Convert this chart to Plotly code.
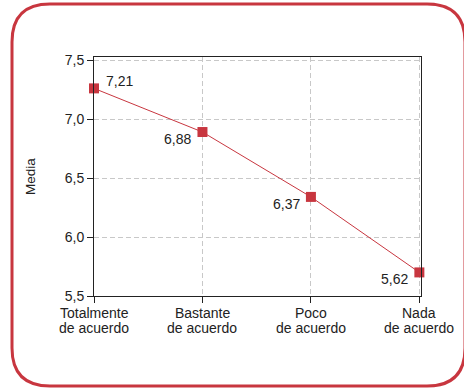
import plotly.graph_objects as go

# data
categories = ["Totalmente<br>de acuerdo", "Bastante<br>de acuerdo", "Poco<br>de acuerdo", "Nada<br>de acuerdo"]
media = [7.26, 6.89, 6.34, 5.70]
value_labels = ["7,21", "6,88", "6,37", "5,62"]
y_ticks = [5.5, 6.0, 6.5, 7.0, 7.5]

W, H = 464, 389
L, R, T, B = 94, 43, 57, 93
RED = "#c8363f"
INK = "#222222"
GRID = "#c8c8c8"

pw, ph = W - L - R, H - T - B


def px(x):
    return (x - L) / pw


def py(y):
    return (H - B - y) / ph


def frame_path(x0, y0, x1, y1, r):
    # rounded rectangle given in pixels, returned in paper coords
    pts = [
        ("M", [(x0 + r, y0)]),
        ("L", [(x1 - r, y0)]),
        ("Q", [(x1, y0), (x1, y0 + r)]),
        ("L", [(x1, y1 - r)]),
        ("Q", [(x1, y1), (x1 - r, y1)]),
        ("L", [(x0 + r, y1)]),
        ("Q", [(x0, y1), (x0, y1 - r)]),
        ("L", [(x0, y0 + r)]),
        ("Q", [(x0, y0), (x0 + r, y0)]),
    ]
    s = ""
    for cmd, coords in pts:
        s += cmd + " " + " ".join(f"{px(a):.5f},{py(b):.5f}" for a, b in coords) + " "
    return s + "Z"


xs = list(range(len(categories)))

fig = go.Figure()
fig.add_trace(go.Scatter(
    x=xs, y=media,
    mode="lines+markers",
    line=dict(color=RED, width=1),
    marker=dict(symbol="square", size=10, color=RED),
    cliponaxis=False, showlegend=False, hoverinfo="skip",
))

# value labels: first one up-right of the point, the rest down-left
for i, (xv, yv, lab) in enumerate(zip(xs, media, value_labels)):
    if i == 0:
        fig.add_annotation(x=xv, y=yv, text=lab, showarrow=False,
                           xanchor="left", yanchor="middle", xshift=10, yshift=7)
    else:
        fig.add_annotation(x=xv, y=yv, text=lab, showarrow=False,
                           xanchor="right", yanchor="middle", xshift=-9, yshift=-7)

# category labels, one annotation per line to keep the tight line spacing
for xv, cat in zip(xs, categories):
    for k, line in enumerate(cat.split("<br>")):
        fig.add_annotation(x=xv, y=py(313 + 15 * k), yref="paper", text=line,
                           showarrow=False, xanchor="center", yanchor="middle")

fig.add_shape(type="path", xref="paper", yref="paper",
              path=frame_path(12, 4, 465, 386, 38),
              line=dict(color=RED, width=3), layer="below")

fig.update_layout(
    width=W, height=H,
    margin=dict(l=L, r=R, t=T, b=B),
    paper_bgcolor="white", plot_bgcolor="white",
    separators=",.",
    font=dict(family="Liberation Sans, Arial, sans-serif", size=14, color=INK),
    xaxis=dict(
        range=[0, 3.015], tickvals=xs, showticklabels=False,
        showgrid=True, gridcolor=GRID, griddash="5px,3px", gridwidth=1,
        showline=True, linecolor=INK, linewidth=1, mirror=True,
        ticks="outside", ticklen=6, tickcolor=INK, zeroline=False,
    ),
    yaxis=dict(
        range=[5.5, 7.526], tickvals=y_ticks, tickformat=".1f",
        showgrid=True, gridcolor=GRID, griddash="5px,3px", gridwidth=1,
        showline=True, linecolor=INK, linewidth=1, mirror=True,
        ticks="outside", ticklen=6, tickcolor=INK, zeroline=False,
        title=dict(text="Media", font=dict(size=13.5), standoff=26),
    ),
)

# drop the default page margin so the figure sits at the window's corner
fig.write_html("out.html", config={"displayModeBar": False},
               post_script="document.body.style.margin='0';")
